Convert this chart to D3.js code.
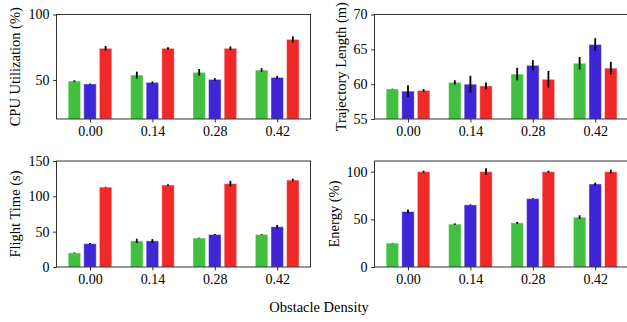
<!DOCTYPE html>
<html>
<head>
<meta charset="utf-8">
<script src="https://cdn.jsdelivr.net/npm/d3@7"></script>
<style>
  body { margin: 0; background: #fff; }
  svg text { font-family: "Liberation Serif", "Times New Roman", Times, "DejaVu Serif", serif !important; }
</style>
</head>
<body>
<svg id="chart" width="627" height="322"></svg>
<script>
// categories (obstacle density) and the three series per panel
const categories = ["0.00", "0.14", "0.28", "0.42"];
const series = ["a", "b", "c"];
const colors = ["#40bf40", "#3e25d6", "#f12828"];

const cpuMean = [[49.2, 53.8, 55.9, 57.6], [47.0, 48.2, 50.5, 52.0], [74.2, 74.2, 74.2, 81.0]];
const cpuErr = [[0.6, 2.6, 2.5, 1.4], [0.3, 0.7, 1.0, 1.2], [1.8, 0.9, 1.4, 2.4]];

const trajMean = [[59.3, 60.26, 61.45, 63.0], [59.0, 60.0, 62.7, 65.7], [59.1, 59.75, 60.7, 62.3]];
const trajErr = [[0.05, 0.3, 0.9, 0.9], [0.85, 1.2, 0.75, 0.9], [0.2, 0.5, 1.2, 0.9]];

const timeMean = [[20, 37, 41, 46], [33, 37, 46, 57], [113, 116, 118, 123]];
const timeErr = [[0.5, 3.0, 0.5, 0.5], [1.0, 2.5, 0.7, 2.5], [0.5, 1.0, 4.0, 2.0]];

const energyMean = [[25, 45, 46.3, 52.3], [58.2, 65.2, 71.8, 87.1], [100, 100, 100, 100]];
const energyErr = [[0.3, 0.8, 1.0, 2.0], [2.0, 0.5, 0.4, 1.5], [1.0, 3.5, 1.0, 2.0]];

const panels = [
  { label: "CPU Utilization (%)", mean: cpuMean, err: cpuErr, domain: [20.3, 100], ticks: [50, 100],
    left: 56.6, top: 14.5, bottom: 119, labelX: -37 },
  { label: "Trajectory Length (m)", mean: trajMean, err: trajErr, domain: [55, 70], ticks: [55, 60, 65, 70],
    left: 374.6, top: 14.5, bottom: 119, labelX: -29 },
  { label: "Flight Time (s)", mean: timeMean, err: timeErr, domain: [0, 150], ticks: [0, 50, 100, 150],
    left: 56.6, top: 161, bottom: 267, labelX: -37 },
  { label: "Energy (%)", mean: energyMean, err: energyErr, domain: [0, 111.2], ticks: [0, 50, 100],
    left: 374.6, top: 161, bottom: 267, labelX: -36 }
];

const svg = d3.select("#chart");
const axWidth = 254;
const fontSize = 14;

panels.forEach(p => {
  const g = svg.append("g").attr("transform", `translate(${p.left},${p.top})`);
  const h = p.bottom - p.top;

  const x = d3.scaleLinear().domain([-0.535, categories.length - 1 + 0.535]).range([0, axWidth]);
  const offset = d3.scalePoint().domain(series).range([-0.25, 0.25]);
  const barW = x(0.2) - x(0);
  const y = d3.scaleLinear().domain(p.domain).range([h, 0]);

  series.forEach((s, si) => {
    const rows = categories.map((c, ci) => ({ ci, v: p.mean[si][ci], e: p.err[si][ci] }));

    g.selectAll(null)
      .data(rows)
      .enter()
      .append("rect")
      .attr("x", d => x(d.ci + offset(s)) - barW / 2)
      .attr("y", d => y(d.v))
      .attr("width", barW)
      .attr("height", d => h - y(d.v))
      .attr("fill", colors[si])
      .attr("stroke", "#ffffff")
      .attr("stroke-opacity", 0.45)
      .attr("stroke-width", 1);

    g.selectAll(null)
      .data(rows)
      .enter()
      .append("line")
      .attr("x1", d => x(d.ci + offset(s)))
      .attr("x2", d => x(d.ci + offset(s)))
      .attr("y1", d => y(d.v - d.e))
      .attr("y2", d => y(d.v + d.e))
      .attr("stroke", "#000")
      .attr("stroke-width", 1.8);
  });

  // x axis
  const xAxis = g.append("g")
    .attr("transform", `translate(0,${h})`)
    .call(d3.axisBottom(x).tickValues(d3.range(categories.length))
      .tickFormat(i => categories[i]).tickSizeInner(3.5).tickSizeOuter(0).tickPadding(3.5));

  const yAxis = g.append("g")
    .call(d3.axisLeft(y).tickValues(p.ticks).tickSizeInner(3.5).tickSizeOuter(0).tickPadding(3.5));

  [xAxis, yAxis].forEach(a => {
    a.attr("font-family", null);
    a.select(".domain").remove();
    a.selectAll("line").attr("stroke", "#000").attr("stroke-width", 0.8);
    a.selectAll("text")
      .attr("fill", "#000")
      .style("font-size", fontSize + "px");
  });

  // frame
  g.append("rect")
    .attr("width", axWidth)
    .attr("height", h)
    .attr("fill", "none")
    .attr("stroke", "#000")
    .attr("stroke-width", 0.8);

  // y label
  g.append("text")
    .attr("transform", `translate(${p.labelX},${h / 2}) rotate(-90)`)
    .attr("text-anchor", "middle")
    .style("font-size", "14.5px")
    .text(p.label);
});

svg.append("text")
  .attr("x", 319)
  .attr("y", 312)
  .attr("text-anchor", "middle")
  .style("font-size", "14.5px")
  .text("Obstacle Density");
</script>
</body>
</html>
